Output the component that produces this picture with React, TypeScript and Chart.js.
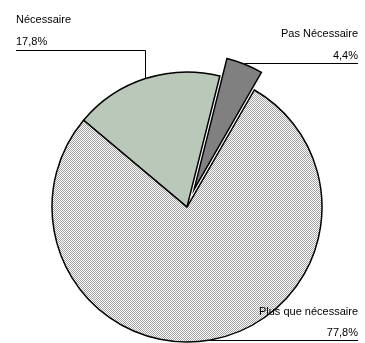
import React, { useEffect, useRef } from "react";
import { Chart, registerables } from "chart.js";

Chart.register(...registerables);

// Survey answers and their shares (percent)
const categories = ["Nécessaire", "Pas Nécessaire", "Plus que nécessaire"];
const shares = [17.8, 4.4, 77.8];

// Pulled-out distance of each slice, in pixels
const EXPLODE = [0, 19, 0];

const W = 365;
const H = 343;
const FONT = '11px "Liberation Sans", Arial, sans-serif';

function makeHatch(): CanvasPattern | string {
  const c = document.createElement("canvas");
  c.width = 2;
  c.height = 2;
  const g = c.getContext("2d");
  if (!g) return "#d4d4d4";
  g.fillStyle = "#ffffff";
  g.fillRect(0, 0, 2, 2);
  g.fillStyle = "#a4a4a4";
  g.fillRect(0, 0, 1, 1);
  g.fillRect(1, 1, 1, 1);
  const p = g.createPattern(c, "repeat");
  return p || "#d4d4d4";
}

const fmt = (v: number) => v.toFixed(1).replace(".", ",") + "%";

const explodedDraw = {
  id: "explodedDraw",
  beforeDatasetDraw(chart: any, args: any) {
    const ctx = chart.ctx;
    const meta = chart.getDatasetMeta(args.index);
    meta.data.forEach((arc: any, i: number) => {
      const e = EXPLODE[i] || 0;
      const mid = (arc.startAngle + arc.endAngle) / 2;
      ctx.save();
      ctx.translate(Math.cos(mid) * e, Math.sin(mid) * e);
      arc.draw(ctx, chart.chartArea);
      ctx.restore();
    });
    return false;
  },
};

const leaderLabels = {
  id: "leaderLabels",
  afterDatasetsDraw(chart: any) {
    const ctx = chart.ctx;
    const meta = chart.getDatasetMeta(0);
    const anchor = (i: number) => {
      const arc: any = meta.data[i];
      const mid = (arc.startAngle + arc.endAngle) / 2;
      const r = arc.outerRadius + (EXPLODE[i] || 0);
      return { x: arc.x + Math.cos(mid) * r, y: arc.y + Math.sin(mid) * r };
    };
    ctx.save();
    ctx.font = FONT;
    ctx.fillStyle = "#000000";
    ctx.strokeStyle = "#000000";
    ctx.lineWidth = 1;
    ctx.textBaseline = "alphabetic";

    // Nécessaire: left label, elbow line down to the slice
    const a0 = anchor(0);
    const y0 = 50.5;
    ctx.textAlign = "left";
    ctx.fillText(categories[0], 16, 23);
    ctx.fillText(fmt(shares[0]), 16, 45);
    ctx.beginPath();
    ctx.moveTo(16, y0);
    ctx.lineTo(Math.round(a0.x) + 0.5, y0);
    ctx.lineTo(Math.round(a0.x) + 0.5, a0.y);
    ctx.stroke();

    // Pas Nécessaire: right label, horizontal line
    const a1 = anchor(1);
    const y1 = 63.5;
    ctx.textAlign = "right";
    ctx.fillText(categories[1], 358, 37);
    ctx.fillText(fmt(shares[1]), 358, 58.5);
    ctx.beginPath();
    ctx.moveTo(a1.x, y1);
    ctx.lineTo(358, y1);
    ctx.stroke();

    // Plus que nécessaire: right label at the bottom
    const a2 = anchor(2);
    const y2 = 340.5;
    ctx.fillText(categories[2], 358, 315);
    ctx.fillText(fmt(shares[2]), 358, 336);
    ctx.beginPath();
    ctx.moveTo(a2.x, y2);
    ctx.lineTo(358, y2);
    ctx.stroke();
    ctx.restore();
  },
};

export default function App() {
  const ref = useRef<HTMLCanvasElement | null>(null);

  useEffect(() => {
    if (!ref.current) return;
    const chart = new Chart(ref.current, {
      type: "pie",
      data: {
        labels: categories,
        datasets: [
          {
            data: shares,
            backgroundColor: ["#bac8b9", "#808080", makeHatch()],
            borderColor: "#000000",
            borderWidth: 1.5,
            borderJoinStyle: "miter",
            radius: 135,
          } as any,
        ],
      },
      options: {
        responsive: false,
        animation: false,
        rotation: -50,
        layout: { padding: { left: 9, top: 71, right: 0, bottom: 0 } },
        plugins: {
          legend: { display: false },
          tooltip: { enabled: false },
        },
      },
      plugins: [explodedDraw, leaderLabels],
    });
    return () => chart.destroy();
  }, []);

  return (
    <div style={{ position: "absolute", left: 0, top: 0, width: W, height: H, background: "#ffffff" }}>
      <canvas ref={ref} width={W} height={H} style={{ display: "block", width: W, height: H }} />
    </div>
  );
}
